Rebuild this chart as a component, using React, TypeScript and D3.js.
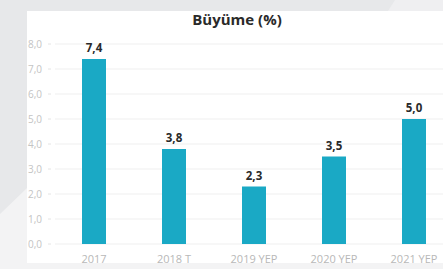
import React from "react";
import * as d3 from "d3";

const categories = ["2017", "2018 T", "2019 YEP", "2020 YEP", "2021 YEP"];
const values = [7.4, 3.8, 2.3, 3.5, 5.0];
const yTicks = [0, 1, 2, 3, 4, 5, 6, 7, 8];
const title = "Büyüme (%)";

const W = 443;
const H = 269;

export default function App() {
  const y = d3.scaleLinear().domain([0, 8]).range([244, 44]);
  const x = d3.scalePoint<string>().domain(categories).range([94, 414]);
  const barW = 24;
  const fmt = (v: number) => v.toFixed(1).replace(".", ",");
  const font = "'Open Sans', 'Noto Sans', sans-serif";

  return (
    <svg
      width={W}
      height={H}
      style={{ position: "absolute", left: 0, top: 0 }}
      viewBox={`0 0 ${W} ${H}`}
    >
      <rect x={0} y={0} width={W} height={H} fill="#e7e8ea" />
      <path d="M0,214 L27,188 L27,269 L0,269 Z" fill="#f3f3f4" />
      <path d="M395,0 L443,0 L443,11 L388,11 Z" fill="#efeff1" />
      <rect x={27} y={11} width={W - 27} height={252} fill="#ffffff" />

      <text
        x={237}
        y={25}
        textAnchor="middle"
        fontFamily={font}
        fontWeight={700}
        fontSize={15}
        fill="#2a2a2a"
      >
        {title}
      </text>

      {yTicks.map((t) => (
        <g key={t}>
          <line
            x1={55}
            x2={W}
            y1={y(t)}
            y2={y(t)}
            stroke="#efefef"
            strokeWidth={1}
          />
          <line x1={48} x2={51} y1={y(t)} y2={y(t)} stroke="#e4e4e4" />
          <text
            x={28}
            y={y(t)}
            dy="0.35em"
            fontFamily={font}
            fontSize={10}
            fill="#c4c4c4"
          >
            {fmt(t)}
          </text>
        </g>
      ))}

      {categories.map((c, i) => (
        <g key={c}>
          <rect
            x={(x(c) as number) - barW / 2}
            y={y(values[i])}
            width={barW}
            height={y(0) - y(values[i])}
            fill="#1aa9c5"
          />
          <text
            x={x(c) as number}
            y={y(values[i]) - 7}
            textAnchor="middle"
            fontFamily={font}
            fontWeight={700}
            fontSize={11.5}
            fill="#2a2a2a"
          >
            {fmt(values[i])}
          </text>
          <text
            x={x(c) as number}
            y={263}
            textAnchor="middle"
            fontFamily={font}
            fontSize={11}
            fill="#b8b8b8"
          >
            {c}
          </text>
        </g>
      ))}
      <rect x={0} y={263} width={W} height={6} fill="#f3f3f4" />
    </svg>
  );
}
